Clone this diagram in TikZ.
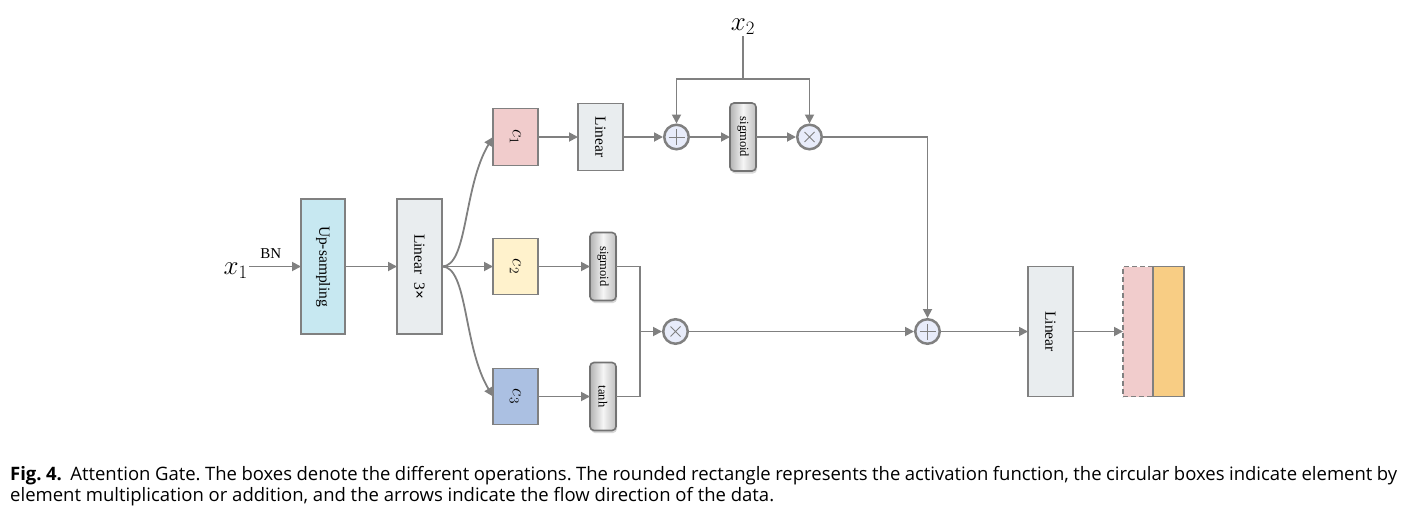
\RequirePackage{fix-cm}
\documentclass[tikz,border=0pt]{standalone}
\usepackage{fontspec}
\setmainfont{Liberation Serif}
\newfontfamily\capfont{Open Sans}
\usepackage{xcolor}
\definecolor{linegray}{RGB}{128,128,128}
\definecolor{upcolor}{RGB}{199,232,241}
\definecolor{lincolor}{RGB}{233,237,239}
\definecolor{cone}{RGB}{241,204,204}
\definecolor{ctwo}{RGB}{255,242,204}
\definecolor{cthree}{RGB}{171,192,226}
\definecolor{featcolor}{RGB}{248,205,132}
\definecolor{opcolor}{RGB}{232,236,250}
\usepackage{tikz}
\usetikzlibrary{shapes, arrows.meta, positioning, calc, shadows}
\tikzstyle{opbox} = [rectangle, draw=linegray, line width=1.8pt, inner sep=0pt, outer sep=0pt, minimum width=45pt, font=\fontsize{15.5}{18}\selectfont]
\tikzstyle{cbox} = [opbox, font=\fontsize{19}{22}\selectfont]
\tikzstyle{actbox} = [rectangle, draw=black!55, line width=1.6pt, rounded corners=4pt, inner sep=0pt, outer sep=0pt, minimum width=26pt, minimum height=68pt, left color=gray!60, right color=gray!50, middle color=gray!8, drop shadow={shadow xshift=1pt, shadow yshift=-2.5pt, opacity=0.3}, font=\fontsize{12.5}{14}\selectfont]
\tikzstyle{opcircle} = [circle, draw=linegray, line width=2.5pt, fill=opcolor, inner sep=0pt, minimum size=24.5pt]
\tikzstyle{addop} = [opcircle, path picture={\draw[linegray, line width=0.9pt] ($(path picture bounding box.center)+(-8pt,0)$) -- ++(16pt,0) ($(path picture bounding box.center)+(0,-8pt)$) -- ++(0,16pt);}]
\tikzstyle{mulop} = [opcircle, path picture={\draw[linegray, line width=0.9pt] ($(path picture bounding box.center)+(-5pt,-5pt)$) -- ++(10pt,10pt) ($(path picture bounding box.center)+(-5pt,5pt)$) -- ++(10pt,-10pt);}]
\tikzstyle{featbox} = [rectangle, draw=linegray, line width=1.8pt, inner sep=0pt, outer sep=0pt, minimum height=130pt]
\tikzstyle{arrow} = [line width=1.8pt, draw=linegray, ->, >={Triangle[length=9pt,width=9pt]}]
\tikzstyle{line} = [line width=1.8pt, draw=linegray]
\newcommand{\vlabel}[1]{\rotatebox{-90}{#1}}

\begin{document}
\begin{tikzpicture}
    \useasboundingbox (0,0) rectangle (1407pt,-517pt);

    \node[opbox, fill=upcolor, minimum width=44pt, minimum height=135pt] (upsamp) at (323pt,-266.5pt) {\vlabel{Up-sampling}};
    \node[opbox, fill=lincolor, minimum height=135pt, right=52pt of upsamp] (lin3) {\vlabel{Linear\ \ 3{\bfseries ×}}};
    \node[cbox, fill=ctwo, minimum height=56pt, right=51pt of lin3] (c2) {\vlabel{$c_2$}};
    \node[cbox, fill=cone, minimum height=57pt, above=73pt of c2] (c1) {\vlabel{$c_1$}};
    \node[cbox, fill=cthree, minimum height=56pt, below=74pt of c2] (c3) {\vlabel{$c_3$}};
    \node[font=\fontsize{27}{30}\selectfont, inner sep=1pt, left=52pt of upsamp, yshift=-4pt] (x1) {$x_1$};

    % upper branch
    \node[opbox, fill=lincolor, minimum height=67pt, right=40pt of c1] (lin1) {\vlabel{Linear}};
    \node[addop, right=40pt of lin1] (add1) {};
    \node[actbox, right=40pt of add1] (sig1) {\vlabel{sigmoid}};
    \node[mulop, right=40pt of sig1] (mul1) {};
    \node[font=\fontsize{27}{30}\selectfont, inner sep=1pt, above=67pt of sig1] (x2) {$x_2$};
    \coordinate[below=43pt of x2] (split);

    % lower branches
    \node[actbox, right=52pt of c2] (sig2) {\vlabel{sigmoid}};
    \node[actbox, right=52pt of c3] (tanh) {\vlabel{tanh}};
    \coordinate (join) at ($(sig2.east)!0.5!(tanh.east)+(24pt,0)$);
    \node[mulop, right=22pt of join] (mul2) {};
    \node[addop, right=225pt of mul2] (add2) {};
    \node[opbox, fill=lincolor, minimum height=130pt, right=87pt of add2] (lin2) {\vlabel{Linear}};
    \node[featbox, dash pattern=on 5pt off 3pt, fill=cone, minimum width=30pt, right=50pt of lin2] (feat1) {};
    \node[featbox, fill=featcolor, minimum width=31pt, right=0pt of feat1] (feat2) {};

    \draw[arrow] (x1.east |- upsamp) -- (upsamp) node[pos=0.42, above=6pt, inner sep=1pt, font=\fontsize{15}{18}\selectfont] (bn) {BN};
    \draw[arrow] (upsamp) -- (lin3);
    \draw[arrow] (lin3.east) .. controls +(26pt,0pt) and +(-30pt,-50pt) .. (c1.west);
    \draw[arrow] (lin3) -- (c2);
    \draw[arrow] (lin3.east) .. controls +(26pt,0pt) and +(-30pt,50pt) .. (c3.west);
    \draw[arrow] (c1) -- (lin1);
    \draw[arrow] (lin1) -- (add1);
    \draw[arrow] (add1) -- (sig1);
    \draw[arrow] (sig1) -- (mul1);
    \draw[line] (x2) -- (split);
    \draw[arrow] (split) -| (add1);
    \draw[arrow] (split) -| (mul1);
    \draw[arrow] (mul1) -| (add2);
    \draw[arrow] (c2) -- (sig2);
    \draw[arrow] (c3) -- (tanh);
    \draw[line] (sig2) -| (join) |- (tanh);
    \draw[arrow] (join) -- (mul2);
    \draw[arrow] (mul2) -- (add2);
    \draw[arrow] (add2) -- (lin2);
    \draw[arrow] (lin2) -- (feat1);

    \node[anchor=north west, inner sep=0pt, text width=1387pt, align=justify, font=\capfont\fontsize{18.5}{21}\selectfont\frenchspacing] (caption) at (10pt,-466pt) {\textbf{Fig. 4.}\hspace{0.45em}Attention Gate. The boxes denote the different operations. The rounded rectangle represents the activation function, the circular boxes indicate element by\linebreak element multiplication or addition, and the arrows indicate the flow direction of the data.};
\end{tikzpicture}
\end{document}
